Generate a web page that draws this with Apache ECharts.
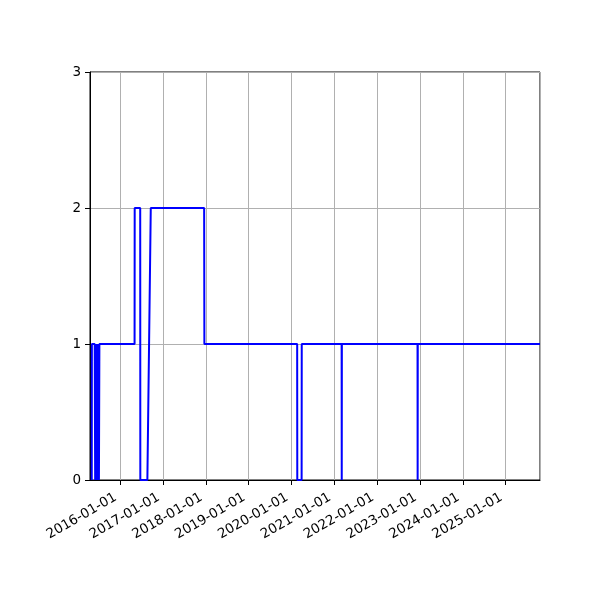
<!DOCTYPE html>
<html>
<head>
<meta charset="utf-8">
<script src="https://cdn.jsdelivr.net/npm/echarts@6/dist/echarts.min.js"></script>
<style>html,body{margin:0;padding:0;background:#fff}#c{width:600px;height:600px}</style>
</head>
<body>
<div id="c"></div>
<script>
const dates = ['2015-05-05','2015-05-06','2015-05-30','2015-06-03','2015-06-07','2015-06-11','2015-06-15','2015-06-19','2015-06-23','2015-06-27','2015-07-01','2015-07-05','2015-07-09',
  '2016-05-04','2016-05-05','2016-06-21','2016-06-22','2016-08-21','2016-09-19','2017-12-18','2017-12-20',
  '2020-02-19','2020-02-20','2020-03-28','2020-03-29','2021-03-04','2021-03-05','2021-03-06',
  '2022-12-11','2022-12-12','2022-12-13','2025-10-20'];
const values = [0,1,1,0,1,0,1,0,1,0,1,0,1,
  1,2,2,0,0,2,2,1,
  1,0,0,1,1,0,1,
  1,0,1,1];
const xMin = '2015-04-20';
const xMax = '2025-10-20';
const yTicks = [0,1,2,3];

const chart = echarts.init(document.getElementById('c'), null, {renderer:'canvas'});
const YEAR = 365.25*24*3600*1000;
chart.setOption({
  animation:false,
  grid:{left:90,right:60,top:72,bottom:120,show:true,borderColor:'#000',borderWidth:1,backgroundColor:'transparent'},
  xAxis:{
    type:'time', min:xMin, max:xMax,
    minInterval:YEAR*0.9, maxInterval:YEAR*1.1,
    axisLine:{show:true,lineStyle:{color:'#000',width:1}},
    axisTick:{show:true,length:5,lineStyle:{color:'#000',width:1}},
    splitLine:{show:true,lineStyle:{color:'#b0b0b0',width:1}},
    axisLabel:{
      rotate:30, color:'#000', fontSize:13.5, fontFamily:'DejaVu Sans', margin:14,
      padding:[0,5,0,0],
      showMinLabel:false, showMaxLabel:false, hideOverlap:false,
      formatter: v => echarts.time.format(v,'{yyyy}-{MM}-{dd}',false)
    }
  },
  yAxis:{
    type:'value', min:yTicks[0], max:yTicks[yTicks.length-1], interval:1,
    axisLine:{show:true,lineStyle:{color:'#000',width:1}},
    axisTick:{show:true,length:5,lineStyle:{color:'#000',width:1}},
    splitLine:{show:true,lineStyle:{color:'#b0b0b0',width:1}},
    axisLabel:{color:'#000',fontSize:13.5,fontFamily:'DejaVu Sans',margin:9}
  },
  series:[{
    type:'line', showSymbol:false, symbol:'none',
    data: dates.map((d,i)=>[d,values[i]]),
    lineStyle:{color:'#0000ff',width:2},
    z:5
  }]
});
</script>
</body>
</html>
